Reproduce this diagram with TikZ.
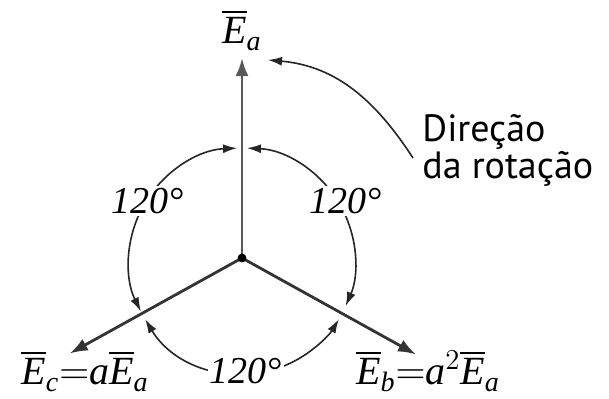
\documentclass[tikz,border=0pt]{standalone}
\usepackage{amsmath}
\usepackage{fontspec}
\setmainfont{Liberation Serif}
\newfontfamily\rotsans{PT Sans}
\usetikzlibrary{arrows.meta}
\tikzset{
  phasor/.style={line width=1.4pt, black!80, -{Latex[length=9pt,width=6.5pt]}},
  anglearc/.style={line width=0.8pt, black!85, {Latex[length=7pt,width=4.5pt]}-{Latex[length=7pt,width=4.5pt]}},
  rotarrow/.style={line width=0.8pt, black!85, -{Latex[length=7pt,width=4.5pt]}},
  degree/.style={fill=white, inner sep=1pt, font=\fontsize{19}{22}\selectfont\itshape},
  phasorlabel/.style={inner sep=1pt, font=\fontsize{20}{24}\selectfont},
  rotlabel/.style={align=left, anchor=west, inner sep=0pt, font=\rotsans\fontsize{19}{18.5}\selectfont}
}
\newcommand{\phv}[1]{\overline{\textit{E}}_{\textit{#1}}}
\begin{document}
\begin{tikzpicture}[x=0.5pt, y=0.5pt]
	\fill[white] (-242,-140) rectangle (367,258);
	\useasboundingbox (-242,-140) rectangle (367,258);
	% Phasors
	\coordinate (O) at (0,0);
	\coordinate (A) at (90:200);
	\coordinate (B) at (331:199);
	\coordinate (C) at (209:197);
	\draw[phasor, black!65] (O) -- (A);
	\draw[phasor] (O) -- (B);
	\draw[phasor] (O) -- (C);
	\fill (O) circle (2.2pt);
	
	% Phasor labels
	\node[phasorlabel] (Ea) at (0,228) {$\phv{a}$};
	\node[phasorlabel] (Ec) at (-157,-113) {$\phv{c}{=}\textit{a}\phv{a}$};
	\node[phasorlabel] (Eb) at (186,-113) {$\phv{b}{=}\textit{a}^{2}\phv{a}$};
	
	% Angles
	\coordinate (Oc) at (0,-3);
	\draw[anglearc] ([shift={(92.5:113)}]Oc) arc[start angle=92.5, end angle=206.5, radius=113];
	\draw[anglearc] ([shift={(87.5:113)}]Oc) arc[start angle=87.5, end angle=-23.5, radius=113];
	\draw[anglearc] ([shift={(211:113)}]Oc) arc[start angle=211, end angle=329, radius=113];
	\node[degree] (ang1) at (-94,57) {120°};
	\node[degree] (ang2) at (104,57) {120°};
	\node[degree] (ang3) at (4,-113) {120°};
	
	% Rotation
	\node[rotlabel] (dir) at (180,108) {Direção\\da rotação};
	\coordinate (r0) at (171,100);
	\coordinate (r1) at (26,198);
	\draw[rotarrow] (r0) to[out=123, in=-5] (r1);
\end{tikzpicture}
\end{document}
